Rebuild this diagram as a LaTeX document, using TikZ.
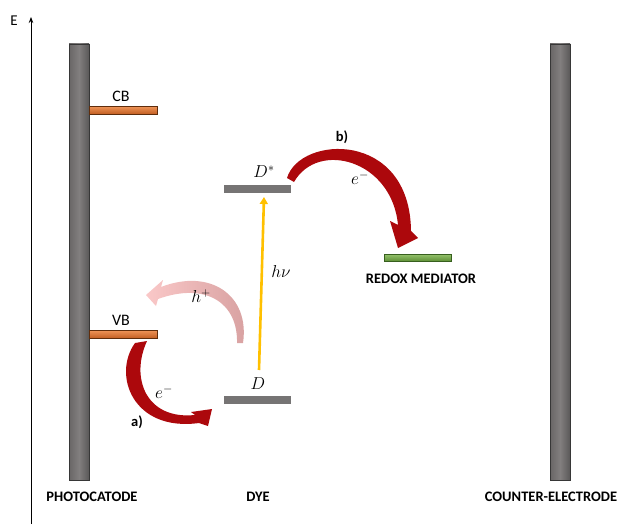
\documentclass[tikz,border=0pt]{standalone}
\usepackage{fontspec}
\setmainfont{Carlito}
\usetikzlibrary{arrows.meta}
\begin{document}
\begin{tikzpicture}[x=1pt,y=-1pt,
  electrode/.style={draw={rgb,255:red,55;green,55;blue,55},line width=0.8pt,
    left color={rgb,255:red,105;green,102;blue,102},right color={rgb,255:red,90;green,88;blue,88},middle color={rgb,255:red,130;green,127;blue,127}},
  band/.style={draw={rgb,255:red,95;green,45;blue,12},line width=0.9pt,
    top color={rgb,255:red,240;green,150;blue,90},bottom color={rgb,255:red,195;green,95;blue,35}},
  dyelevel/.style={fill={rgb,255:red,118;green,116;blue,116}},
  redoxbar/.style={draw={rgb,255:red,55;green,95;blue,30},line width=0.9pt,
    top color={rgb,255:red,150;green,195;blue,110},bottom color={rgb,255:red,95;green,145;blue,55}},
  lbl/.style={font=\fontsize{16}{18}\selectfont},
  blbl/.style={font=\bfseries\fontsize{14.5}{16}\selectfont},
  mlbl/.style={font=\fontsize{17}{19}\selectfont},
  redarrow/.style={fill={rgb,255:red,172;green,8;blue,12}},
  pinkarrow/.style={left color={rgb,255:red,250;green,200;blue,200},right color={rgb,255:red,215;green,160;blue,160}}
]
\useasboundingbox (0,0) rectangle (617,524);
% energy axis
\coordinate (ebot) at (31,524);
\coordinate (etop) at (31,17);
\draw[line width=0.8pt,-{Stealth[length=6pt,width=4.5pt]}] (ebot) -- (etop);
\node[font=\fontsize{15}{17}\selectfont] (E) at (14,21) {E};
% electrodes
\draw[electrode] (69,44) rectangle (89,480);
\node (pc) at (79,262) {};
\draw[electrode] (550,44) rectangle (570,480);
\node (ce) at (560,262) {};
% bands
\draw[band] (89,106) rectangle (157,114);
\node[lbl] (CB) at (121,96) {CB};
\draw[band] (89,330) rectangle (157,338);
\node[lbl] (VB) at (121,320) {VB};
% dye levels
\fill[dyelevel] (224,185) rectangle (291,193);
\node[mlbl] (Dstar) at (264,172) {$D^*$};
\fill[dyelevel] (224,396) rectangle (291,404);
\node[mlbl] (D) at (258,384) {$D$};
% redox mediator
\draw[redoxbar] (384,254) rectangle (451,261);
\node[blbl] (rm) at (421,279) {REDOX MEDIATOR};
% excitation
\coordinate (hvs) at (259,370);
\coordinate (hve) at (264,197);
\draw[line width=2.6pt,color={rgb,255:red,255;green,192;blue,0},-{Triangle[length=7pt,width=8pt]}] (hvs) -- (hve);
\node[mlbl] (hv) at (281,271) {$h\nu$};
% arrow b
\fill[redarrow] (287,178) .. controls (300,135) and (410,130) .. (411,231)
  -- (418,238) -- (398,248) -- (390,221) -- (398,225)
  .. controls (392,160) and (318,140) .. (294,182) -- cycle;
\node[blbl] (b) at (342,137) {b)};
\node[mlbl] (eb) at (360,178) {$e^-$};
% arrow a
\fill[redarrow] (135,343) .. controls (112,375) and (133,432) .. (199,423)
  -- (208,426) -- (212,409) -- (191,412) -- (195,415)
  .. controls (146,420) and (130,378) .. (147,341) -- cycle;
\node[blbl] (a) at (137,422) {a)};
\node[mlbl] (ea) at (164,392) {$e^-$};
% arrow h+
\shade[pinkarrow] (243,343) .. controls (250,295) and (210,268) .. (161,287)
  -- (163,280) -- (146,295) -- (156,306) -- (158,299)
  .. controls (205,282) and (238,302) .. (237,343) -- cycle;
\node[mlbl] (hp) at (201,296) {$h^+$};
% bottom labels
\node[blbl] (lpc) at (92,497) {PHOTOCATODE};
\node[blbl] (ldye) at (258,497) {DYE};
\node[blbl] (lce) at (551,497) {COUNTER-ELECTRODE};
\end{tikzpicture}
\end{document}
